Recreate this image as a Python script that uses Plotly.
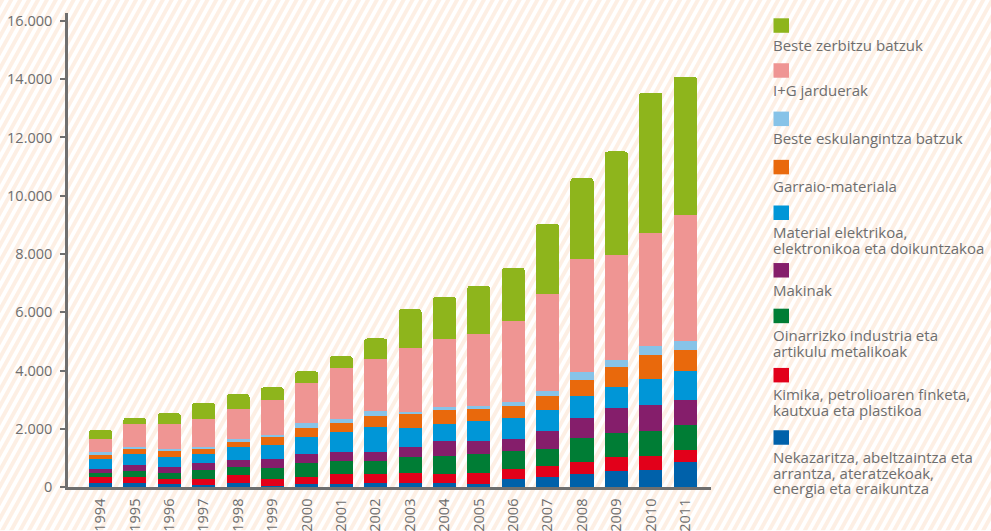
import base64
import plotly.graph_objects as go

years = [str(y) for y in range(1994, 2012)]

# Stacked series, bottom to top
nekazaritza = [150, 150, 90, 60, 130, 20, 90, 90, 130, 150, 150, 90, 270, 340, 460, 560, 600, 870]
kimika = [180, 190, 180, 210, 270, 250, 260, 340, 300, 340, 310, 380, 340, 370, 410, 480, 450, 410]
oinarrizko = [160, 200, 200, 300, 300, 370, 470, 460, 460, 530, 620, 650, 640, 580, 820, 820, 860, 850]
makinak = [140, 230, 200, 240, 240, 320, 330, 300, 300, 370, 510, 450, 410, 620, 690, 860, 890, 870]
material = [320, 380, 370, 340, 450, 480, 580, 690, 860, 620, 580, 690, 720, 750, 750, 720, 920, 990]
garraio = [160, 160, 180, 160, 170, 260, 310, 310, 380, 480, 480, 410, 410, 450, 550, 690, 820, 720]
beste_eskulangintza = [80, 70, 80, 70, 100, 90, 150, 140, 170, 100, 100, 100, 140, 170, 270, 240, 310, 310]
ig_jarduerak = [470, 770, 880, 970, 1030, 1210, 1370, 1750, 1780, 2190, 2330, 2500, 2780, 3360, 3870, 3600, 3870, 4320]
beste_zerbitzu = [310, 220, 350, 540, 500, 420, 410, 410, 720, 1330, 1450, 1630, 1810, 2390, 2780, 3550, 4820, 4750]

y_tickvals = [0, 2000, 4000, 6000, 8000, 10000, 12000, 14000, 16000]
y_ticktext = ["0", "2.000", "4.000", "6.000", "8.000", "10.000", "12.000", "14.000", "16.000"]

series = [
    (["Nekazaritza, abeltzaintza eta", "arrantza, ateratzekoak,", "energia eta eraikuntza"], nekazaritza, "#0061aa"),
    (["Kimika, petrolioaren finketa,", "kautxua eta plastikoa"], kimika, "#e2001a"),
    (["Oinarrizko industria eta", "artikulu metalikoak"], oinarrizko, "#007d35"),
    (["Makinak"], makinak, "#851e6b"),
    (["Material elektrikoa,", "elektronikoa eta doikuntzakoa"], material, "#0096d7"),
    (["Garraio-materiala"], garraio, "#e9690c"),
    (["Beste eskulangintza batzuk"], beste_eskulangintza, "#87c3e8"),
    (["I+G jarduerak"], ig_jarduerak, "#ef9593"),
    (["Beste zerbitzu batzuk"], beste_zerbitzu, "#8eb51c"),
]

W, H = 991, 531
L, R, T, B = 68, 280, 13, 43.5
PW, PH = W - L - R, H - T - B

fig = go.Figure()
for names, vals, col in series:
    fig.add_trace(go.Bar(x=years, y=vals, name=" ".join(names), marker_color=col,
                         marker_line_width=0, showlegend=False))

# striped background
svg = (
    f"<svg xmlns='http://www.w3.org/2000/svg' width='{W}' height='{H}'>"
    "<defs><pattern id='p' width='7.8' height='20' patternUnits='userSpaceOnUse' "
    "patternTransform='rotate(29)'><rect width='3.9' height='20' fill='#fdefe4'/></pattern></defs>"
    "<rect width='100%' height='100%' fill='#ffffff'/>"
    "<rect width='100%' height='100%' fill='url(#p)'/></svg>"
)
src = "data:image/svg+xml;base64," + base64.b64encode(svg.encode()).decode()
fig.add_layout_image(dict(source=src, xref="paper", yref="paper", x=-L / PW, y=1 + T / PH,
                          sizex=W / PW, sizey=H / PH, xanchor="left", yanchor="top",
                          sizing="stretch", layer="below"))

def px(xp):
    return (xp - L) / PW

def py(yp):
    return (H - B - yp) / PH

# custom legend (top to bottom)
legend_sq_tops = [18.3, 63.3, 111.7, 160, 205.7, 263.3, 309, 368.3, 430.7]
text_color = "#6e6e6e"
font_family = "Open Sans, Liberation Sans, Arial, sans-serif"
for i, (names, vals, col) in enumerate(reversed(series)):
    top = legend_sq_tops[i]
    fig.add_shape(type="rect", xref="paper", yref="paper", x0=px(773.5), x1=px(789),
                  y0=py(top + 14.5), y1=py(top), fillcolor=col, line_width=0, layer="above")
    n = len(names)
    txt = "<br>".join(f"<span style='font-size:15px'>{line}</span>" for line in names)
    fig.add_annotation(xref="paper", yref="paper", x=px(771),
                       y=py(top + 26.5 + 15.7 * (n - 1) / 2),
                       xanchor="left", yanchor="middle", align="left", text=txt, showarrow=False,
                       font=dict(size=12.08, color=text_color, family=font_family))

axis_col = "#6f6f6f"
fig.update_layout(
    width=W, height=H,
    margin=dict(l=L, r=R, t=T, b=B, pad=0, autoexpand=False),
    barmode="stack", bargap=0.33, barcornerradius=3,
    paper_bgcolor="rgba(0,0,0,0)", plot_bgcolor="rgba(0,0,0,0)",
    font=dict(family=font_family, size=14, color=text_color),
    xaxis=dict(type="category", range=[-0.943, 17.75], showline=True, linecolor=axis_col,
               linewidth=2.5, ticks="", tickangle=-90, showgrid=False, zeroline=False,
               automargin=False,
               tickfont=dict(size=14.5, color=text_color), ticklabelstandoff=3),
    yaxis=dict(range=[0, 16274], showline=True, linecolor=axis_col, linewidth=2.5,
               ticks="outside", ticklen=5, tickwidth=2, tickcolor=axis_col,
               tickvals=y_tickvals, ticktext=y_ticktext, showgrid=False, zeroline=False,
               automargin=False,
               tickfont=dict(size=14.5, color=text_color), ticklabelstandoff=5),
)

fig.write_html("out.html", config={"displayModeBar": False},
               post_script="document.body.style.margin='0px';")
